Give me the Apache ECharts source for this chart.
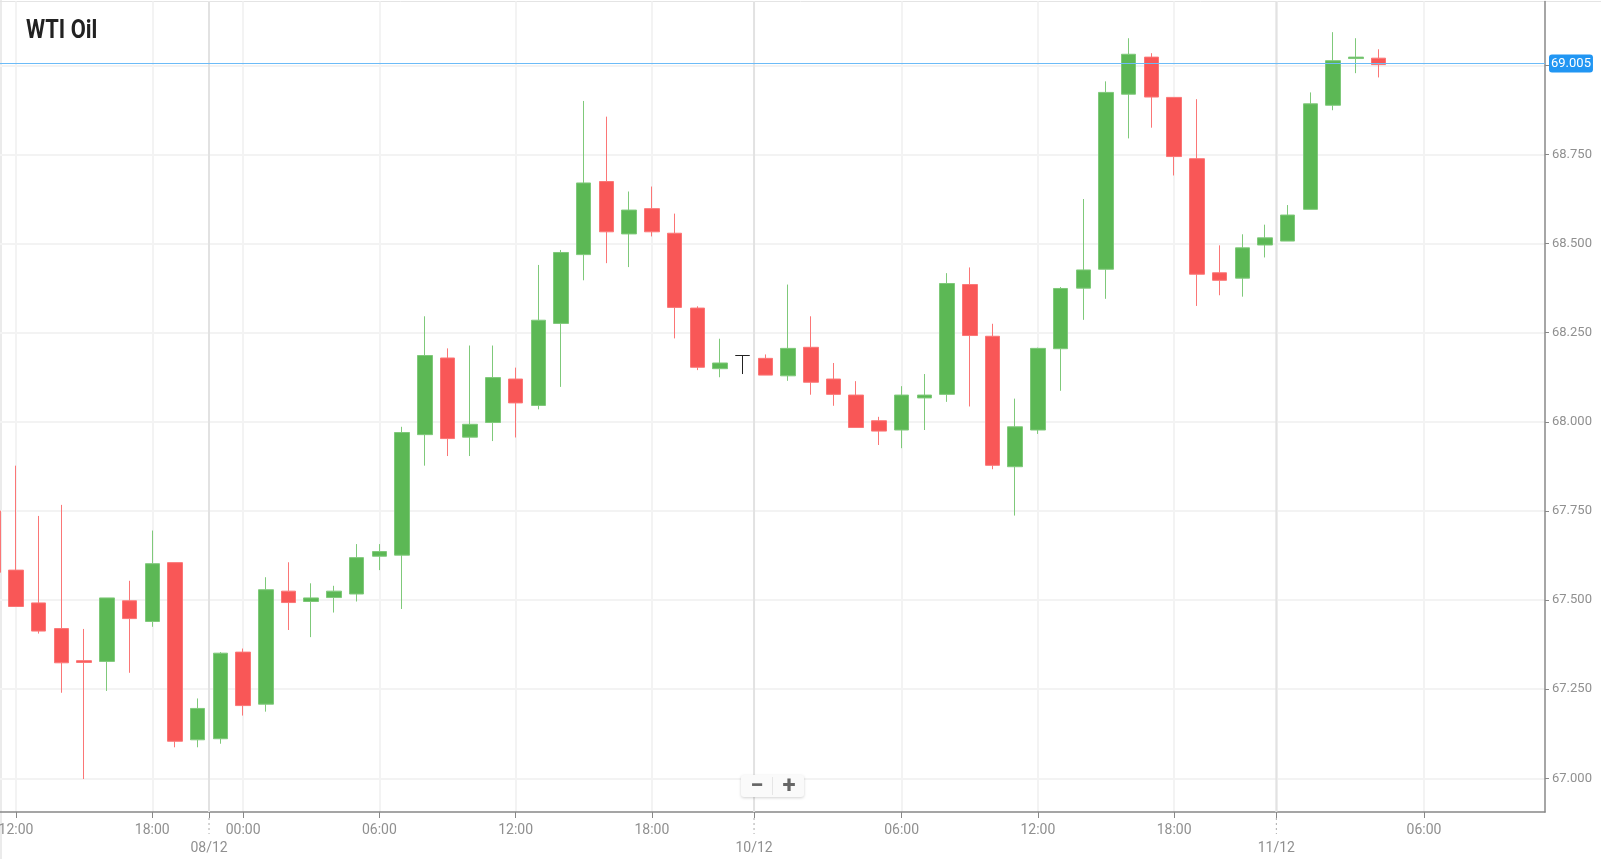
<!DOCTYPE html>
<html>
<head>
<meta charset="utf-8">
<title>WTI Oil</title>
<script src="https://cdn.jsdelivr.net/npm/echarts@6/dist/echarts.min.js"></script>
<style>
  html, body { margin: 0; padding: 0; background: #fff; }
  #chart { width: 1601px; height: 859px; }
</style>
</head>
<body>
<div id="chart"></div>
<script>
// hourly candles, slot 0 is the one cut off by the left edge
const opens = [67.75, 67.584, 67.492, 67.42, 67.33, 67.328, 67.498, 67.44, 67.605, 67.108, 67.111, 67.354, 67.208, 67.525, 67.496, 67.507, 67.517, 67.623, 67.626, 67.964, 68.179, 67.957, 67.998, 68.12, 68.046, 68.276, 68.469, 68.674, 68.527, 68.598, 68.529, 68.319, 68.149, 68.186, 68.178, 68.129, 68.209, 68.12, 68.075, 68.003, 67.977, 68.067, 68.077, 68.385, 68.24, 67.874, 67.977, 68.205, 68.375, 68.428, 68.919, 69.023, 68.91, 68.738, 68.418, 68.403, 68.496, 68.507, 68.596, 68.888, 69.019, 69.02];
const closes = [67.578, 67.482, 67.413, 67.324, 67.325, 67.506, 67.448, 67.602, 67.104, 67.196, 67.351, 67.204, 67.529, 67.493, 67.506, 67.525, 67.619, 67.636, 67.97, 68.186, 67.953, 67.993, 68.124, 68.053, 68.285, 68.475, 68.67, 68.533, 68.594, 68.533, 68.321, 68.153, 68.165, 68.186, 68.131, 68.206, 68.111, 68.077, 67.984, 67.974, 68.075, 68.075, 68.388, 68.242, 67.878, 67.986, 68.206, 68.374, 68.426, 68.924, 69.031, 68.911, 68.744, 68.414, 68.397, 68.488, 68.516, 68.58, 68.892, 69.013, 69.023, 69.002];
const lows = [67.578, 67.482, 67.406, 67.24, 66.998, 67.245, 67.296, 67.425, 67.087, 67.087, 67.097, 67.176, 67.187, 67.416, 67.396, 67.465, 67.496, 67.584, 67.475, 67.877, 67.904, 67.904, 67.946, 67.956, 68.035, 68.098, 68.397, 68.445, 68.434, 68.52, 68.234, 68.145, 68.125, 68.134, 68.131, 68.115, 68.076, 68.045, 67.984, 67.935, 67.926, 67.977, 68.056, 68.043, 67.867, 67.737, 67.966, 68.087, 68.286, 68.345, 68.795, 68.825, 68.691, 68.325, 68.355, 68.351, 68.461, 68.507, 68.596, 68.874, 68.978, 68.966];
const highs = [67.75, 67.877, 67.736, 67.767, 67.419, 67.506, 67.554, 67.695, 67.605, 67.224, 67.354, 67.364, 67.564, 67.606, 67.547, 67.54, 67.657, 67.657, 67.986, 68.296, 68.206, 68.214, 68.214, 68.152, 68.44, 68.482, 68.9, 68.856, 68.646, 68.66, 68.584, 68.324, 68.233, 68.186, 68.189, 68.385, 68.296, 68.165, 68.114, 68.014, 68.1, 68.134, 68.417, 68.433, 68.275, 68.065, 68.208, 68.378, 68.625, 68.955, 69.076, 69.034, 68.91, 68.905, 68.495, 68.526, 68.553, 68.608, 68.924, 69.093, 69.076, 69.045];

// x axis ticks, in candle slots
const hourTicks = [1, 7, 11, 17, 23, 29, 40, 46, 52, 63];
const hourLabels = ["12:00", "18:00", "00:00", "06:00", "12:00", "18:00", "06:00", "12:00", "18:00", "06:00"];
const dateTicks = [9.5, 33.5, 56.5];
const dateLabels = ["08/12", "10/12", "11/12"];

// y axis
const priceTicks = [67, 67.25, 67.5, 67.75, 68, 68.25, 68.5, 68.75, 69];
const priceLabelTicks = [67, 67.25, 67.5, 67.75, 68, 68.25, 68.5, 68.75];
const lastPrice = 69.005;

const candles = opens.map((o, i) => [i, o, closes[i], lows[i], highs[i]]);

const GREEN = "#5cb855";
const RED = "#f95757";

// 日期分隔线: 图内实线 + 轴下虚线
function renderDateBreak(params, api) {
  const x = api.coord([api.value(0), 67])[0];
  const box = params.coordSys;
  const bottom = box.y + box.height;
  return {
    type: "group",
    children: [
      {
        type: "line",
        shape: { x1: x, y1: box.y, x2: x, y2: bottom },
        style: { stroke: "#e2e2e2", lineWidth: 2 },
        z2: 1,
      },
      {
        type: "line",
        shape: { x1: x, y1: bottom + 6, x2: x, y2: bottom + 22 },
        style: { stroke: "#aaa", lineWidth: 1, lineDash: [2, 3] },
      },
    ],
  };
}

const myChart = echarts.init(document.querySelector("#chart"));
const option = {
  animation: false,
  grid: {
    left: 0,
    right: 56,
    top: 1.5,
    bottom: 47,
    outerBoundsMode: "none",
  },
  xAxis: {
    type: "value",
    min: 0.2955,
    max: 68.33,
    axisLine: { onZero: false, lineStyle: { color: "#888", width: 1.5 } },
    axisTick: {
      customValues: hourTicks.concat(dateTicks),
      length: 6,
      lineStyle: { color: "#888" },
    },
    axisLabel: {
      customValues: hourTicks.concat(dateTicks),
      color: "#909090",
      fontFamily: "Roboto",
      fontSize: 14,
      lineHeight: 18,
      margin: 9,
      formatter: (value) => {
        const hour = hourTicks.indexOf(value);
        if (hour >= 0) return hourLabels[hour];
        return "\n" + dateLabels[dateTicks.indexOf(value)];
      },
    },
    splitLine: { show: true, lineStyle: { color: "#f3f3f3", width: 2 } },
  },
  yAxis: {
    type: "value",
    position: "right",
    min: 66.9055,
    max: 69.179,
    axisLine: { show: true, onZero: false, lineStyle: { color: "#888", width: 1.5 } },
    axisTick: {
      show: true,
      customValues: priceTicks,
      length: 4,
      lineStyle: { color: "#888" },
    },
    axisLabel: {
      customValues: priceLabelTicks,
      color: "#909090",
      fontFamily: "Roboto",
      fontSize: 13,
      margin: 7,
      padding: [2, 0, 0, 0],
      formatter: (value) => value.toFixed(3),
    },
    splitLine: { show: true, lineStyle: { color: "#f3f3f3", width: 2 } },
  },
  series: [
    {
      type: "custom",
      coordinateSystem: "cartesian2d",
      renderItem: renderDateBreak,
      data: dateTicks.map((d) => [d]),
      encode: { x: 0 },
      z: 1,
      silent: true,
    },
    {
      type: "candlestick",
      data: candles,
      barWidth: 15,
      z: 3,
      itemStyle: {
        color: GREEN,
        color0: RED,
        borderColor: "#7fc97a",
        borderColor0: "#fb7676",
        borderColorDoji: "#222",
        borderWidth: 1,
      },
      markLine: {
        silent: true,
        symbol: "none",
        animation: false,
        precision: 3,
        lineStyle: { color: "#6cbbf7", width: 1.2, type: "solid" },
        label: {
          position: "end",
          distance: 4,
          formatter: () => lastPrice.toFixed(3),
          color: "#fff",
          fontFamily: "Roboto",
          fontSize: 13,
          backgroundColor: "#2196f3",
          borderRadius: 3,
          padding: [3, 2, 2, 2],
        },
        data: [{ yAxis: lastPrice }],
      },
    },
  ],
  graphic: [
    // 上边框, 左边框
    {
      type: "line",
      shape: { x1: 0, y1: 1.5, x2: 1601, y2: 1.5 },
      style: { stroke: "#e4e4e4", lineWidth: 1 },
      z: 0,
    },
    {
      type: "line",
      shape: { x1: 1, y1: 0, x2: 1, y2: 859 },
      style: { stroke: "#e4e4e4", lineWidth: 1.5 },
      z: 0,
    },
    {
      type: "text",
      x: 26,
      y: 32,
      scaleX: 0.875,
      style: {
        text: "WTI Oil",
        fill: "#222",
        font: "bold 25px Roboto, sans-serif",
        verticalAlign: "middle",
      },
    },
    // 缩放按钮
    {
      type: "rect",
      shape: { x: 741, y: 775, width: 63, height: 22, r: 3 },
      style: {
        fill: "#fafafa",
        shadowColor: "rgba(0,0,0,0.18)",
        shadowBlur: 3,
        shadowOffsetY: 1,
      },
      z: 10,
    },
    {
      type: "line",
      shape: { x1: 772.5, y1: 777, x2: 772.5, y2: 795 },
      style: { stroke: "#e6e6e6", lineWidth: 1 },
      z: 11,
    },
    {
      type: "text",
      x: 757,
      y: 787,
      style: {
        text: "−",
        fill: "#666",
        font: "bold 24px Roboto",
        align: "center",
        verticalAlign: "middle",
      },
      z: 11,
    },
    {
      type: "text",
      x: 789,
      y: 787,
      style: {
        text: "+",
        fill: "#666",
        font: "bold 24px Roboto",
        align: "center",
        verticalAlign: "middle",
      },
      z: 11,
    },
  ],
};
myChart.setOption(option);
</script>
</body>
</html>
